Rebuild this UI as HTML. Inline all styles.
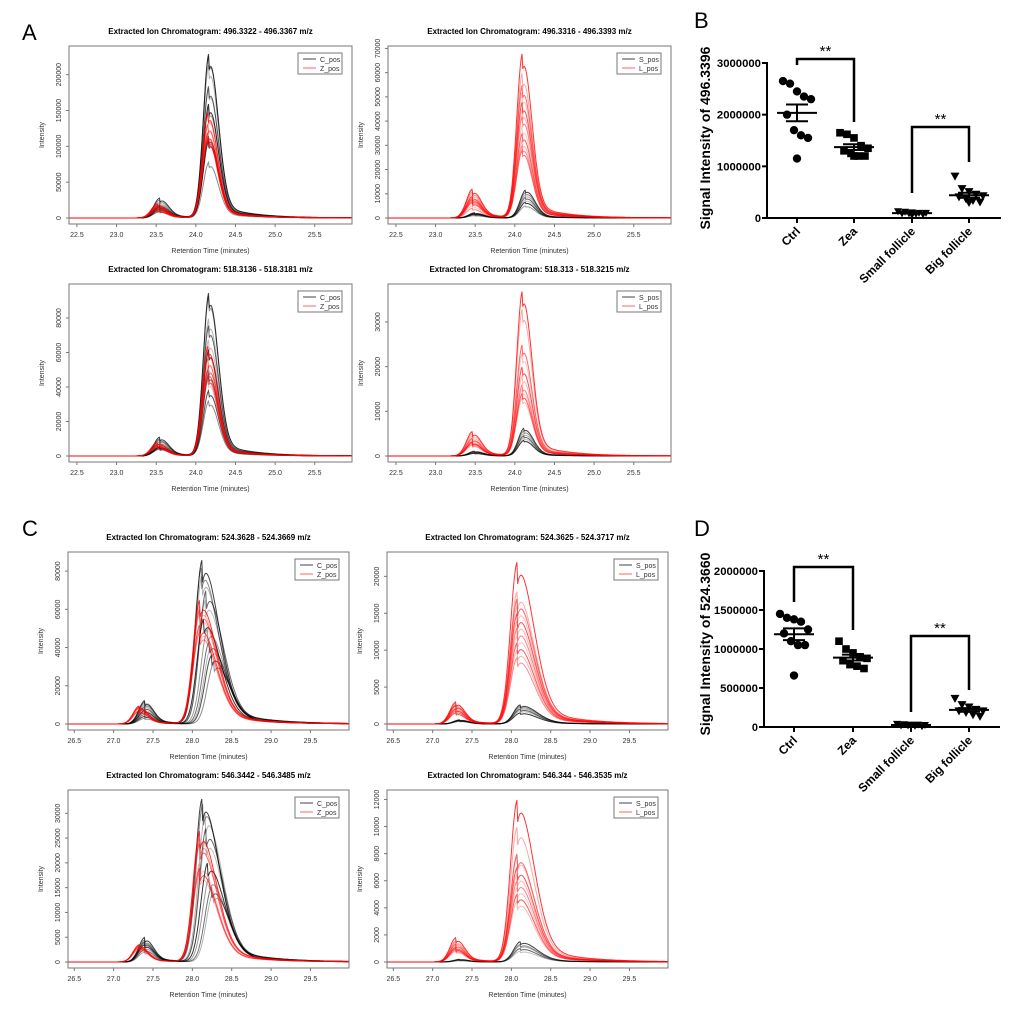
<!DOCTYPE html>
<html><head><meta charset="utf-8"><style>
html,body{margin:0;padding:0;background:#fff}
svg{display:block}
text{font-family:"Liberation Sans",Arial,sans-serif}
</style></head><body>
<svg id="fig" width="1020" height="1014" viewBox="0 0 1020 1014" xmlns="http://www.w3.org/2000/svg">
<text x="22" y="40" font-size="22">A</text>
<text x="694" y="28" font-size="22">B</text>
<text x="22" y="536" font-size="22">C</text>
<text x="694" y="536" font-size="22">D</text>
</svg>
<script>
// ---- Chromatogram data (peak heights) ----
const aTLBlack = [230000,228000,215000,185000,182000,160000,155000,115000,112000,108000,78000];
const aTLBlackSmall = [28000,25000,22000,18000,15000,12000,20000,14000,10000,16000,9000];
const aTLRed = [148000,145000,132000,130000,120000,118000,115000,112000,110000];
const aTLRedSmall = [20000,18000,17000,15000,14000,19000,12000,16000,10000];
const aTRBlack = [11500,10500,9500,8500,7500,6500,5000];
const aTRBlackSmall = [2000,1800,1500,2200,1200,1600,1000];
const aTRRed = [68000,60000,55000,52000,48000,45000,42000,38000,35000,32000,30000,28000];
const aTRRedSmall = [12000,10000,8000,6000,9000,7000,11000,5000,6500,8500,4000,7500];
const aBLBlack = [95000,93000,80000,76000,68000,62000,52000,48000,46000,38000,32000];
const aBLBlackSmall = [11000,10000,9000,7000,6000,5000,8000,4500,9500,5500,4000];
const aBLRed = [64000,62000,57000,53000,50000,48000,46000,44000];
const aBLRedSmall = [8000,7000,6000,7500,6500,5500,5000,6000];
const aBRBlack = [6200,5600,5000,4500,4000,3500];
const aBRBlackSmall = [1000,900,800,1100,700,600];
const aBRRed = [37000,33000,25000,23000,20000,18000,16000,15000,14000,13000];
const aBRRedSmall = [5500,5000,4000,3500,3000,4500,2500,3800,3200,2800];
const cTLBlack = [86000,82000,78000,70000,65000,55000,50000,43000,40000,36000,32000];
const cTLBlackCenter = [28.13,28.12,28.13,28.18,28.17,28.15,28.2,28.22,28.24,28.25,28.28];
const cTLBlackSmall = [12000,11000,10000,9000,8000,7000,6000,5000,12500,4000,3000];
const cTLRed = [65000,62000,60000,58000,52000,50000,48000];
const cTLRedSmall = [9500,9000,8500,8000,7000,6500,9000];
const cTRBlack = [2600,2400,2200,2000,1800,1500];
const cTRBlackSmall = [500,450,600,400,350,550];
const cTRRed = [22000,18000,17000,16000,15000,14000,13000,12000,11000,10000,9000];
const cTRRedSmall = [3000,2800,2500,2200,2000,1800,2600,2400,1500,2100,1700];
const cBLBlack = [33000,32000,30000,27000,25000,20000,17000,15000,14000];
const cBLBlackCenter = [28.13,28.14,28.17,28.18,28.18,28.2,28.22,28.25,28.27];
const cBLBlackSmall = [5000,4500,4200,4000,3800,3500,3000,2500,2000];
const cBLRed = [26500,25000,24000,20000,19000,18000];
const cBLRedSmall = [3500,3300,3000,2800,3200,2600];
const cBRBlack = [1500,1300,1200,1000,800];
const cBRBlackSmall = [200,180,150,120,100];
const cBRRed = [12000,10000,8000,7800,7000,6500,6000,5500,5000,4500];
const cBRRedSmall = [1800,1500,1300,1200,1000,1600,900,1400,1100,800];

// ---- Scatter data ----
const groupNames = ["Ctrl","Zea","Small follicle","Big follicle"];
const bCtrl = [2650000,2600000,2450000,2350000,2300000,2000000,1700000,1600000,1550000,1150000];
const bZea = [1650000,1620000,1550000,1400000,1350000,1300000,1250000,1200000,1200000,1200000];
const bSmall = [130000,120000,110000,100000,100000,90000,90000,80000,70000,60000];
const bBig = [800000,560000,500000,450000,420000,400000,360000,330000,300000,290000];
const bTicks = [0,1000000,2000000,3000000];
const dCtrl = [1450000,1400000,1380000,1350000,1250000,1200000,1100000,1050000,1050000,660000];
const dZea = [1100000,1000000,950000,900000,880000,850000,800000,780000,750000];
const dSmall = [40000,35000,30000,30000,25000,20000,20000,15000,10000];
const dBig = [360000,280000,250000,220000,200000,200000,180000,150000,130000];
const dTicks = [0,500000,1000000,1500000,2000000];

const NS="http://www.w3.org/2000/svg";
const svg=document.getElementById('fig');
function mk(tag,attrs,parent){const e=document.createElementNS(NS,tag);for(const k in attrs)e.setAttribute(k,attrs[k]);(parent||svg).appendChild(e);return e;}

function peak(t,c,h,sL,sR,tA,tK){
  if(t<c) return h*Math.exp(-0.5*((t-c)/sL)**2);
  const d=t-c;
  return h*((1-tA)*Math.exp(-0.5*(d/sR)**2)+tA*Math.exp(-d/tK)*(1-Math.exp(-d/0.05)));
}

function chrom(p){
  const g=mk('g',{});
  
  
  const L=p.x,R=p.x+p.w,T=p.y,B=p.y+178,Z=B-6;
  const sx=t=>L+(t-p.xmin)/(p.xmax-p.xmin)*(R-L);
  const sy=v=>Z-v/p.ymax*(Z-T);
  const t1=mk('text',{x:(L+R)/2,y:T-12,'font-size':8,'font-weight':'bold','text-anchor':'middle'},g);
  t1.textContent=p.title;
  
  
  const clip='clip'+p.name;
  const cp=mk('clipPath',{id:clip},g);mk('rect',{x:L,y:T,width:R-L,height:B-T},cp);
  const lines=mk('g',{'clip-path':'url(#'+clip+')'},g);
  function draw(arr,small,centers,c,sc,col,alphas,kind){
    arr.forEach((h,i)=>{
      const cc=centers?centers[i]:c;
      let d='';
      for(let t=p.xmin;t<=p.xmax+0.001;t+=0.01){
        const v=peak(t,cc,h,p.sL,p.sR,p.tA,p.tK)+peak(t,sc,small[i],0.08,0.1,0.2,0.3);
        d+=(d?'L':'M')+sx(t).toFixed(1)+','+sy(v).toFixed(1);
      }
      const e=mk('path',{d:d,fill:'none',stroke:col,'stroke-opacity':alphas[i%alphas.length],'stroke-width':1},lines);
      
      
    });
  }
  draw(p.black,p.blackSmall,p.blackCenter,p.bc,p.bsc,'#000',[0.75,0.45,0.3,0.6,0.25,0.8,0.4,0.55,0.3,0.7,0.45],'black');
  draw(p.red,p.redSmall,null,p.rc,p.rsc,'#ff0000',[0.8,0.35,0.6,0.25,0.7,0.3,0.5,0.25,0.65,0.3,0.45,0.55],'red');
  mk('rect',{x:L,y:T,width:R-L,height:B-T,fill:'none',stroke:'#777','stroke-width':1},g);
  p.xticks.forEach(v=>{
    const x=sx(v);
    mk('line',{x1:x,x2:x,y1:B,y2:B+3,stroke:'#777'},g);
    const t=mk('text',{x:x,y:B+13,'font-size':7,'text-anchor':'middle',fill:'#333'},g);
    t.textContent=v.toFixed(1);
    
    
  });
  p.yticks.forEach(v=>{
    const y=sy(v);
    mk('line',{x1:L,x2:L-3,y1:y,y2:y,stroke:'#777'},g);
    const t=mk('text',{x:L-8,y:y,'font-size':7,'text-anchor':'middle',fill:'#333',transform:`rotate(-90 ${L-8} ${y})`},g);
    t.textContent=String(v);
    
    
  });
  const xl=mk('text',{x:(L+R)/2,y:B+29,'font-size':7,'text-anchor':'middle',fill:'#333'},g);
  xl.textContent='Retention Time (minutes)';
  
  
  const yl=mk('text',{x:L-25,y:(T+B)/2,'font-size':7,'text-anchor':'middle',fill:'#333',transform:`rotate(-90 ${L-25} ${(T+B)/2})`},g);
  yl.textContent='Intensity';
  
  
  const lg=mk('g',{},g);
  
  
  mk('rect',{x:R-54,y:T+7,width:44,height:21,fill:'#fff',stroke:'#777'},lg);
  mk('line',{x1:R-49,x2:R-36,y1:T+13,y2:T+13,stroke:'#444'},lg);
  mk('line',{x1:R-49,x2:R-36,y1:T+22,y2:T+22,stroke:'#f66'},lg);
  const a=mk('text',{x:R-32,y:T+16,'font-size':7,fill:'#333'},lg);a.textContent=p.leg[0];
  const b=mk('text',{x:R-32,y:T+25,'font-size':7,fill:'#333'},lg);b.textContent=p.leg[1];
}
const axA=[22.5,23.0,23.5,24.0,24.5,25.0,25.5], axC=[26.5,27.0,27.5,28.0,28.5,29.0,29.5];
const shA={xmin:22.4,xmax:25.97,sL:0.075,sR:0.11,tA:0.1,tK:0.4,xticks:axA};
const shC={xmin:26.42,xmax:29.99,sL:0.09,sR:0.2,tA:0.14,tK:0.5,xticks:axC};
function range(n,s){const r=[];for(let v=0;v<=n;v+=s)r.push(v);return r;}
chrom(Object.assign({},shA,{name:'chrom-a-496-c-z',x:69,y:46,w:283,ymax:240000,yticks:range(200000,50000),title:'Extracted Ion Chromatogram: 496.3322 - 496.3367 m/z',leg:['C_pos','Z_pos'],black:aTLBlack,blackSmall:aTLBlackSmall,red:aTLRed,redSmall:aTLRedSmall,bc:24.17,bsc:23.55,rc:24.16,rsc:23.52}));
chrom(Object.assign({},shA,{name:'chrom-a-496-s-l',x:388,y:46,w:283,ymax:71000,yticks:range(70000,10000),title:'Extracted Ion Chromatogram: 496.3316 - 496.3393 m/z',leg:['S_pos','L_pos'],black:aTRBlack,blackSmall:aTRBlackSmall,red:aTRRed,redSmall:aTRRedSmall,bc:24.14,bsc:23.5,rc:24.1,rsc:23.47}));
chrom(Object.assign({},shA,{name:'chrom-a-518-c-z',x:69,y:284,w:283,ymax:99700,yticks:range(80000,20000),title:'Extracted Ion Chromatogram: 518.3136 - 518.3181 m/z',leg:['C_pos','Z_pos'],black:aBLBlack,blackSmall:aBLBlackSmall,red:aBLRed,redSmall:aBLRedSmall,bc:24.17,bsc:23.55,rc:24.16,rsc:23.52}));
chrom(Object.assign({},shA,{name:'chrom-a-518-s-l',x:388,y:284,w:283,ymax:38500,yticks:range(30000,10000),title:'Extracted Ion Chromatogram: 518.313 - 518.3215 m/z',leg:['S_pos','L_pos'],black:aBRBlack,blackSmall:aBRBlackSmall,red:aBRRed,redSmall:aBRRedSmall,bc:24.12,bsc:23.5,rc:24.1,rsc:23.47}));
chrom(Object.assign({},shC,{name:'chrom-c-524-c-z',x:68,y:552,w:281,ymax:90000,yticks:range(80000,20000),title:'Extracted Ion Chromatogram: 524.3628 - 524.3669 m/z',leg:['C_pos','Z_pos'],black:cTLBlack,blackCenter:cTLBlackCenter,blackSmall:cTLBlackSmall,red:cTLRed,redSmall:cTLRedSmall,bc:28.15,bsc:27.4,rc:28.1,rsc:27.33}));
chrom(Object.assign({},shC,{name:'chrom-c-524-s-l',x:387,y:552,w:281,ymax:23300,yticks:range(20000,5000),title:'Extracted Ion Chromatogram: 524.3625 - 524.3717 m/z',leg:['S_pos','L_pos'],black:cTRBlack,blackSmall:cTRBlackSmall,red:cTRRed,redSmall:cTRRedSmall,bc:28.12,bsc:27.35,rc:28.08,rsc:27.3}));
chrom(Object.assign({},shC,{name:'chrom-c-546-c-z',x:68,y:790,w:281,ymax:34700,yticks:range(30000,5000),title:'Extracted Ion Chromatogram: 546.3442 - 546.3485 m/z',leg:['C_pos','Z_pos'],black:cBLBlack,blackCenter:cBLBlackCenter,blackSmall:cBLBlackSmall,red:cBLRed,redSmall:cBLRedSmall,bc:28.15,bsc:27.4,rc:28.1,rsc:27.33}));
chrom(Object.assign({},shC,{name:'chrom-c-546-s-l',x:387,y:790,w:281,ymax:12700,yticks:range(12000,2000),title:'Extracted Ion Chromatogram: 546.344 - 546.3535 m/z',leg:['S_pos','L_pos'],black:cBRBlack,blackSmall:cBRBlackSmall,red:cBRRed,redSmall:cBRRedSmall,bc:28.12,bsc:27.35,rc:28.08,rsc:27.3}));

// ---- scatter plots ----
function mean(a){return a.reduce((s,v)=>s+v,0)/a.length;}
function sem(a){const m=mean(a);return Math.sqrt(a.reduce((s,v)=>s+(v-m)**2,0)/(a.length-1))/Math.sqrt(a.length);}
function scatter(p){
  const g=mk('g',{});
  
  
  const sy=v=>p.zero-(v/p.tmax)*(p.zero-p.top);
  const sx=i=>p.cats[i];
  mk('line',{x1:p.ax,x2:p.ax,y1:p.top-1,y2:p.zero,stroke:'#000','stroke-width':2},g);
  mk('line',{x1:p.ax,x2:p.xend,y1:p.zero,y2:p.zero,stroke:'#000','stroke-width':2},g);
  p.ticks.forEach(v=>{
    const y=sy(v);
    mk('line',{x1:p.ax-5,x2:p.ax,y1:y,y2:y,stroke:'#000','stroke-width':2},g);
    const s=String(v);
    const t=mk('text',{x:p.ax-6,y:y+4,'font-size':11,'font-weight':'bold','text-anchor':'end'},g);
    if(s.length>3){t.setAttribute('textLength',s.length*6.3);t.setAttribute('lengthAdjust','spacingAndGlyphs');}
    t.textContent=s;
    
    
  });
  groupNames.forEach((n,i)=>{
    const x=sx(i);
    mk('line',{x1:x,x2:x,y1:p.zero,y2:p.zero+5,stroke:'#000','stroke-width':2},g);
    const t=mk('text',{x:x+4,y:p.zero+14,'font-size':12,'font-weight':'bold','text-anchor':'end',transform:`rotate(-45 ${x+4} ${p.zero+14})`},g);
    t.textContent=n;
    
    
  });
  const yt=mk('text',{x:p.titleX,y:p.titleY,'font-size':14,'font-weight':'bold','text-anchor':'middle',transform:`rotate(-90 ${p.titleX} ${p.titleY})`},g);
  yt.textContent=p.ytitle;
  
  
  const offs=[-14,-7,0,7,14,-10,-3,4,11,0];
  p.groups.forEach((arr,i)=>{
    const cx=sx(i);
    arr.forEach((v,j)=>{
      const x=cx+offs[j%offs.length],y=sy(v);
      let e;
      if(i===0) e=mk('circle',{cx:x,cy:y,r:4.2,fill:'#000'},g);
      else if(i===1) e=mk('rect',{x:x-3.8,y:y-3.8,width:7.6,height:7.6,fill:'#000'},g);
      else if(i===2) e=mk('path',{d:`M${x-4},${y-3}L${x+4},${y-3}L${x},${y+4}Z`,fill:'#000'},g);
      else e=mk('path',{d:`M${x-4.5},${y-4}L${x+4.5},${y-4}L${x},${y+4}Z`,fill:'#000'},g);
      
      
    });
    const m=mean(arr),s=sem(arr);
    const ml=mk('line',{x1:cx-20,x2:cx+20,y1:sy(m),y2:sy(m),stroke:'#000','stroke-width':2},g);
    
    
    mk('line',{x1:cx-11,x2:cx+11,y1:sy(m+s),y2:sy(m+s),stroke:'#000','stroke-width':2},g);
    mk('line',{x1:cx-11,x2:cx+11,y1:sy(m-s),y2:sy(m-s),stroke:'#000','stroke-width':2},g);
    mk('line',{x1:cx,x2:cx,y1:sy(m+s),y2:sy(m-s),stroke:'#000','stroke-width':2},g);
  });
  p.brackets.forEach(b=>{
    const x1=sx(b.a),x2=sx(b.b);
    const e=mk('path',{d:`M${x1},${b.l}L${x1},${b.top}L${x2},${b.top}L${x2},${b.r}`,fill:'none',stroke:'#000','stroke-width':2.5},g);
    
    
    const t=mk('text',{x:(x1+x2)/2,y:b.top-3,'font-size':15,'text-anchor':'middle'},g);
    t.textContent='**';
    
    
  });
}
scatter({name:'scatter-b',ax:767,xend:1001,zero:218,top:63,tmax:3000000,ticks:bTicks,cats:[797,854,912,969],
  titleX:710,titleY:138,ytitle:'Signal Intensity of 496.3396',groups:[bCtrl,bZea,bSmall,bBig],
  brackets:[{a:0,b:1,top:59,l:65,r:122},{a:2,b:3,top:127,l:193,r:162}]});
scatter({name:'scatter-d',ax:764,xend:1000,zero:727,top:571,tmax:2000000,ticks:dTicks,cats:[794,853,911,969],
  titleX:710,titleY:644,ytitle:'Signal Intensity of 524.3660',groups:[dCtrl,dZea,dSmall,dBig],
  brackets:[{a:0,b:1,top:567,l:602,r:630},{a:2,b:3,top:636,l:712,r:690}]});
</script>
</body></html>
